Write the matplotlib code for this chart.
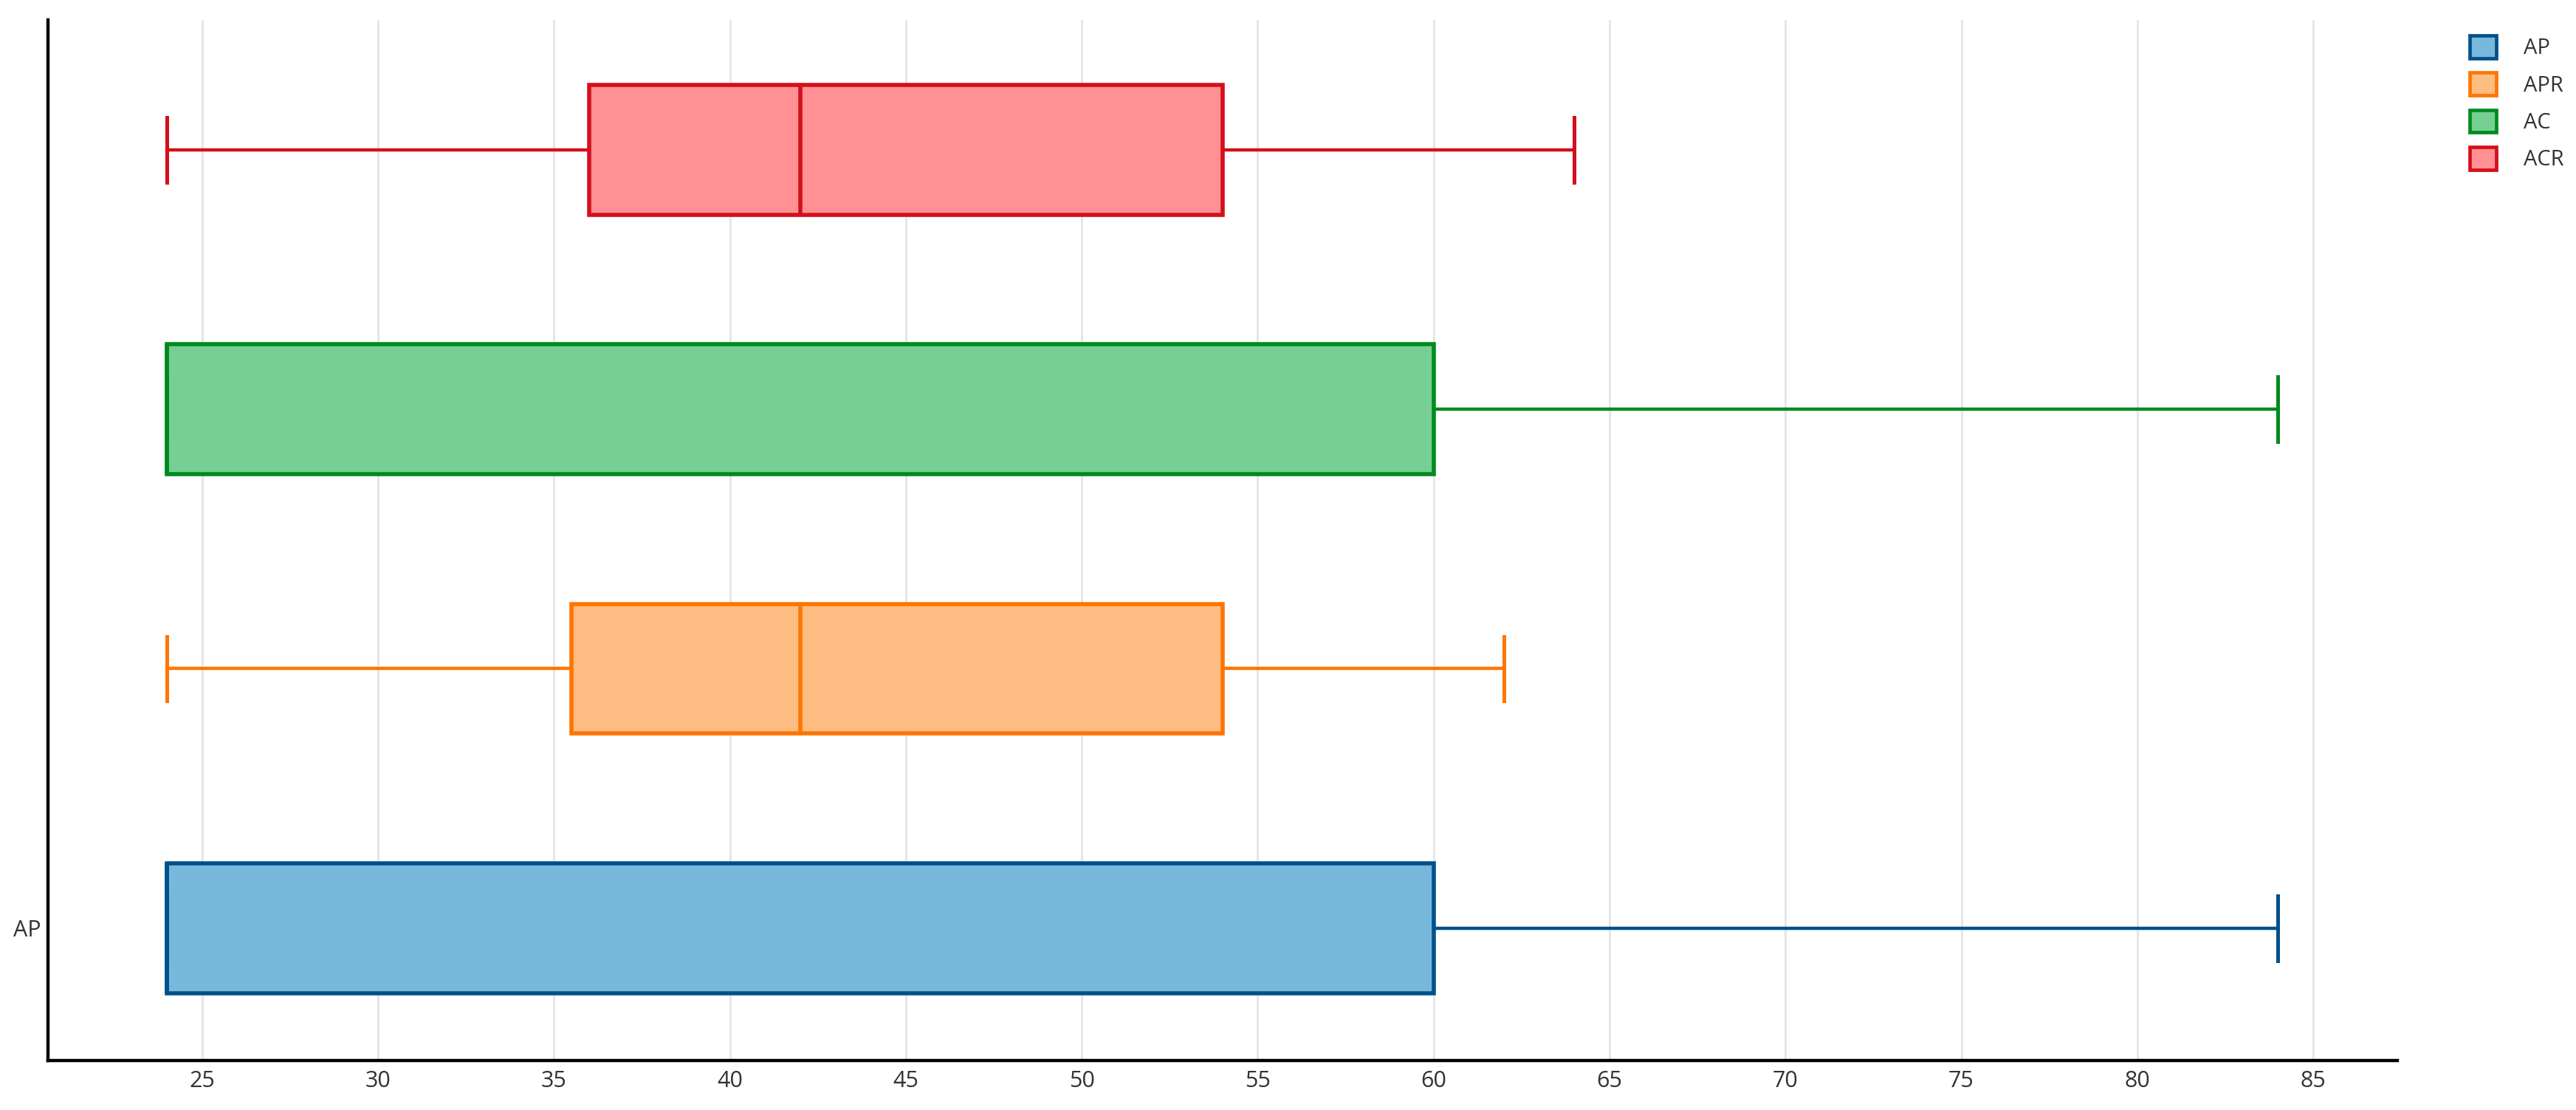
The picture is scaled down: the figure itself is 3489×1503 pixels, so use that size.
import matplotlib
matplotlib.use("Agg")
import matplotlib.pyplot as plt
from matplotlib.patches import Patch

plt.rcParams['font.family'] = ['Open Sans', 'DejaVu Sans']

# Data
names = ["AP", "APR", "AC", "ACR"]
whislo = [24, 24, 24, 24]
q1 = [24, 35.5, 24, 36]
med = [24, 42, 24, 42]
q3 = [60, 54, 60, 54]
whishi = [84, 62, 84, 64]
x_ticks = [25, 30, 35, 40, 45, 50, 55, 60, 65, 70, 75, 80, 85]
y_tick_labels = ["AP"]

edge_colors = ["#00508c", "#ff7500", "#008a1e", "#d40f1c"]
fill_colors = ["#78b8da", "#fdbc82", "#77d093", "#ff9094"]

W, H = 3489, 1503
fig = plt.figure(figsize=(W / 100, H / 100), dpi=100)
ax = fig.add_axes([65 / W, 1 - 1436 / H, (3247 - 65) / W, (1436 - 27) / H])

stats = [dict(whislo=a, q1=b, med=c, q3=d, whishi=e, label=n, fliers=[])
         for a, b, c, d, e, n in zip(whislo, q1, med, q3, whishi, names)]

for i, st in enumerate(stats):
    ec = edge_colors[i]
    ax.bxp([st], positions=[i], widths=0.5, vert=False, patch_artist=True,
           showfliers=False,
           boxprops=dict(facecolor=fill_colors[i], edgecolor=ec, linewidth=4.0),
           medianprops=dict(color=ec, linewidth=4.0),
           whiskerprops=dict(color=ec, linewidth=3.2),
           capprops=dict(color=ec, linewidth=3.6),
           manage_ticks=False, zorder=3)

ax.set_xlim(20.62, 87.39)
ax.set_ylim(-0.51, 3.5)
ax.set_xticks(x_ticks)
ax.set_xticklabels([str(t) for t in x_ticks])
ax.set_yticks([0])
ax.set_yticklabels(y_tick_labels)
ax.tick_params(axis='x', length=0, pad=9, labelsize=22, labelcolor='#333333')
ax.tick_params(axis='y', length=0, pad=7, labelsize=22, labelcolor='#333333')
ax.grid(axis='x', color='#e6e6e6', linewidth=2.2, zorder=0)
ax.set_axisbelow(True)
for s in ['top', 'right']:
    ax.spines[s].set_visible(False)
for s in ['left', 'bottom']:
    ax.spines[s].set_linewidth(3.2)
    ax.spines[s].set_color('black')

handles = [Patch(facecolor=f, edgecolor=e, linewidth=3.4, label=n)
           for f, e, n in zip(fill_colors, edge_colors, names)]
fig.legend(handles=handles, loc='upper left',
           bbox_to_anchor=(3345 / W, 1 - 48 / H), bbox_transform=fig.transFigure,
           frameon=False, fontsize=21, handlelength=1.25, handleheight=1.25,
           handletextpad=1.25, labelspacing=0.62, borderpad=0, borderaxespad=0,
           labelcolor='#333333')

fig.savefig("out.png", dpi=100, facecolor='white')
